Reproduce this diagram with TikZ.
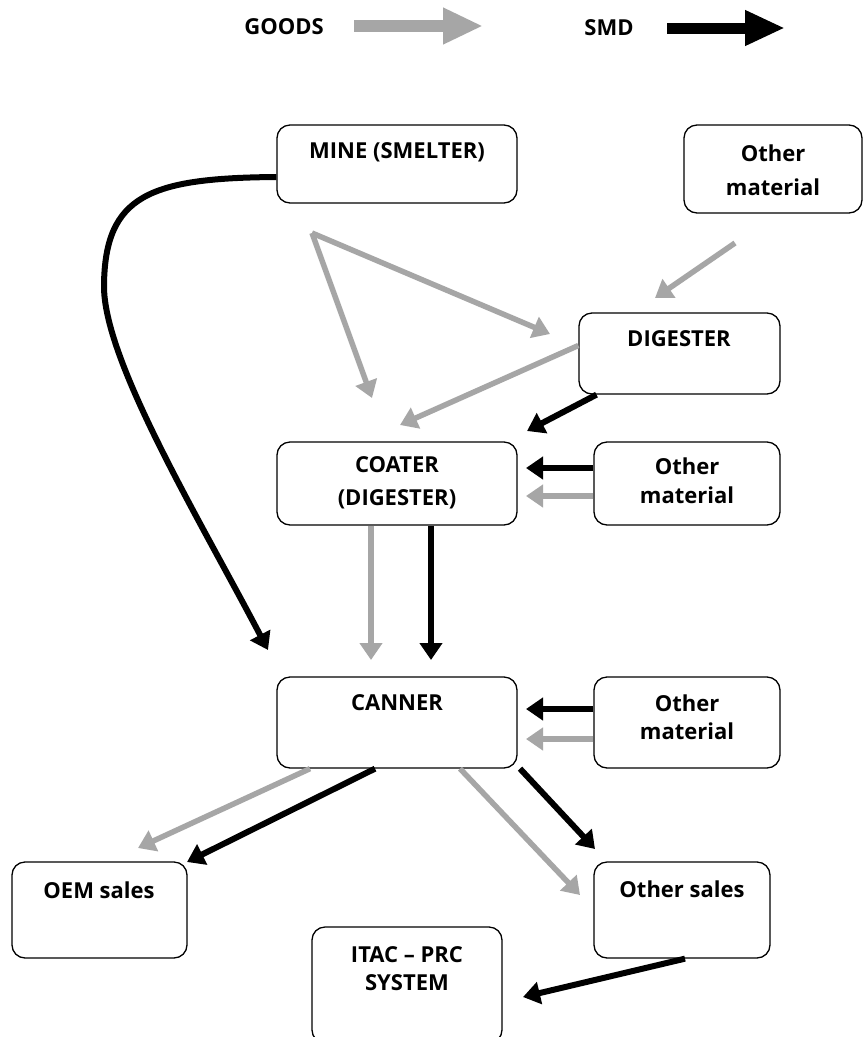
\documentclass[tikz,border=0pt]{standalone}
\usepackage{fontspec}
\setmainfont{Open Sans}
\usetikzlibrary{arrows.meta}
\definecolor{goodsgray}{HTML}{A6A6A6}
\begin{document}
\begin{tikzpicture}[x=1pt,y=-1pt,
  box/.style={draw, line width=1.3pt, rounded corners=13pt, inner sep=0pt},
  lbl/.style={font=\fontsize{22}{29}\selectfont\bfseries, align=center, inner sep=0pt},
  gd/.style={draw=goodsgray, line width=5.5pt, -{Triangle[length=17pt,width=22pt]}},
  sm/.style={draw=black, line width=6pt, -{Triangle[length=17pt,width=22pt]}},
]
\clip (0,0) rectangle (864,1037);
\fill[white] (0,0) rectangle (864,1037);

% legend
\node[lbl] (goodsT) at (284,27) {GOODS};
\node[lbl] (smdT) at (609,28) {SMD};
\coordinate (lg1) at (354,26);
\coordinate (lg2) at (483,26);
\coordinate (ls1) at (667,28);
\coordinate (ls2) at (785,28);
\draw[draw=goodsgray, line width=12pt, -{Triangle[length=40pt,width=34pt]}] (lg1) -- (lg2);
\draw[draw=black, line width=11pt, -{Triangle[length=40pt,width=33pt]}] (ls1) -- (ls2);

% boxes
\node[box, minimum width=240pt, minimum height=78pt] (mine) at (397,164) {};
\node[box, minimum width=178pt, minimum height=88pt] (om1) at (773,169) {};
\node[box, minimum width=201pt, minimum height=81pt] (dig) at (679.5,353.5) {};
\node[box, minimum width=240pt, minimum height=83pt] (coat) at (397,483.5) {};
\node[box, minimum width=186pt, minimum height=83pt] (om2) at (687,483.5) {};
\node[box, minimum width=240pt, minimum height=91pt] (can) at (397,722.5) {};
\node[box, minimum width=186pt, minimum height=91pt] (om3) at (687,722.5) {};
\node[box, minimum width=175pt, minimum height=96pt] (oem) at (99.5,910) {};
\node[box, minimum width=176pt, minimum height=96pt] (osl) at (682,910) {};
\node[box, minimum width=190pt, minimum height=116pt] (itac) at (407,985) {};

% labels
\node[lbl] (mineT) at (397,152) {MINE (SMELTER)};
\node[lbl, font=\fontsize{22}{34}\selectfont\bfseries] (om1T) at (773,170) {Other\\material};
\node[lbl] (digT) at (679,339) {DIGESTER};
\node[lbl, font=\fontsize{22}{33}\selectfont\bfseries] (coatT) at (397,483) {COATER\\(DIGESTER)};
\node[lbl] (canT) at (397,703) {CANNER};
\node[lbl] (om2T) at (687,481) {Other\\material};
\node[lbl, font=\fontsize{22}{28}\selectfont\bfseries] (om3T) at (687,717) {Other\\material};
\node[lbl] (oemT) at (99,890) {OEM sales};
\node[lbl] (oslT) at (682,889) {Other sales};
\node[lbl, font=\fontsize{22}{28}\selectfont\bfseries] (itacT) at (407,969) {ITAC -- PRC\\SYSTEM};

% free ends
\coordinate (cend) at (268,650);
\coordinate (vtop) at (312,233);
\coordinate (vl) at (372,398);
\coordinate (vr) at (550,334);
\coordinate (om1s) at (735,243);
\coordinate (digN) at (655,298);
\coordinate (coatG) at (400,425);
\coordinate (coatS) at (527,431);
\coordinate (coatE1) at (526,468);
\coordinate (coatE2) at (526,496);
\coordinate (canN1) at (371,660);
\coordinate (canN2) at (431,660);
\coordinate (canE1) at (526,709);
\coordinate (canE2) at (526,739);
\coordinate (oemG) at (138,848);
\coordinate (oemS) at (187,862);
\coordinate (oslG) at (580,895);
\coordinate (oslS) at (595,849);
\coordinate (itacE) at (523,997);

% connectors
\draw[sm] ([yshift=-13pt]mine.west) .. controls (150,178) and (105,195) .. (104,285)
          .. controls (103,360) and (200,520) .. (cend);
\draw[gd] (vtop) -- (vl);
\draw[gd] (vtop) -- (vr);
\draw[gd] (om1s) -- (digN);
\draw[gd] ([yshift=8pt]dig.west) -- (coatG);
\draw[sm] ([xshift=-83pt]dig.south) -- (coatS);
\draw[sm] ([yshift=15.5pt]om2.west) -- (coatE1);
\draw[gd] ([yshift=-12.5pt]om2.west) -- (coatE2);
\draw[gd] ([xshift=-26pt]coat.south) -- (canN1);
\draw[sm] ([xshift=34pt]coat.south) -- (canN2);
\draw[sm] ([yshift=13.5pt]om3.west) -- (canE1);
\draw[gd] ([yshift=-16.5pt]om3.west) -- (canE2);
\draw[gd] ([xshift=-87pt]can.south) -- (oemG);
\draw[sm] ([xshift=-22pt]can.south) -- (oemS);
\draw[gd] ([xshift=63pt]can.south) -- (oslG);
\draw[sm] ([xshift=123pt]can.south) -- (oslS);
\draw[sm] ([xshift=3pt]osl.south) -- (itacE);
\end{tikzpicture}
\end{document}
